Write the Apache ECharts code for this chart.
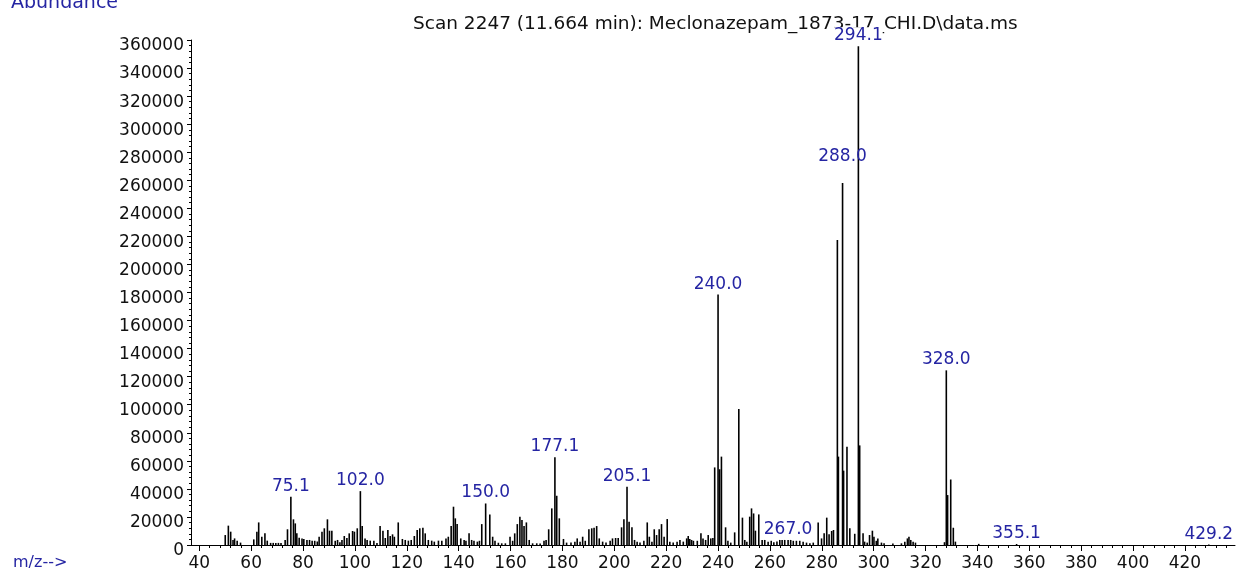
<!DOCTYPE html>
<html>
<head>
<meta charset="utf-8">
<script src="https://cdn.jsdelivr.net/npm/echarts@6.0.0/dist/echarts.min.js"></script>
<style>
  html, body { margin: 0; padding: 0; background: #fff; }
  #spectrum { width: 1238px; height: 575px; }
</style>
</head>
<body>
<div id="spectrum"></div>
<script>
  const titleText = 'Scan 2247 (11.664 min): Meclonazepam_1873-17_CHI.D\\data.ms'

  // m/z positions of every stick
  const mzList = [
    50.0, 51.2, 52.1, 53.0, 53.6, 54.6, 55.9, 61.0, 62.2, 62.9, 64.1, 65.3, 66.2, 67.5, 68.5, 69.5, 70.5, 71.5,
    73.1, 74.0, 75.3, 76.3, 77.0, 77.6, 78.5, 79.6, 80.3, 81.5, 82.5, 83.5, 84.5, 85.5, 86.2, 87.3, 88.2, 89.4,
    90.2, 91.1, 92.4, 93.3, 94.2, 95.0, 95.9, 96.9, 97.8, 99.1, 99.8, 100.9, 102.1, 102.8, 103.9, 104.7, 105.9,
    107.3, 108.5, 109.7, 110.8, 111.7, 112.7, 113.6, 114.5, 115.2, 116.7, 118.3, 119.4, 120.6, 121.7, 122.9,
    124.0, 125.0, 126.2, 127.1, 128.3, 129.6, 130.6, 132.2, 133.5, 135.1, 136.0, 137.1, 138.0, 138.7, 139.4,
    140.8, 142.1, 142.8, 144.0, 145.0, 145.9, 147.2, 148.0, 148.9, 150.4, 152.0, 153.1, 154.0, 155.3, 156.6,
    158.0, 159.8, 160.8, 161.6, 162.6, 163.6, 164.4, 165.2, 166.1, 167.2, 168.5, 170.1, 171.4, 172.9, 173.7,
    174.7, 175.9, 177.1, 177.8, 178.8, 180.4, 181.6, 183.3, 184.8, 185.7, 186.8, 187.8, 188.8, 190.2, 191.3,
    192.2, 193.2, 194.2, 195.5, 196.8, 198.4, 199.3, 200.5, 201.5, 202.8, 203.7, 204.9, 205.7, 206.8, 207.8,
    208.8, 209.9, 211.4, 212.7, 213.5, 214.5, 215.4, 216.3, 217.3, 218.2, 219.2, 220.4, 221.4, 222.7, 224.2,
    225.3, 226.6, 227.9, 228.5, 229.1, 229.8, 230.5, 232.0, 233.4, 234.2, 235.2, 236.2, 237.2, 238.0, 238.7,
    240.0, 240.6, 241.3, 242.9, 243.8, 244.9, 246.4, 248.0, 249.4, 250.3, 251.1, 252.2, 252.9, 253.7, 254.4,
    255.7, 257.0, 258.0, 259.3, 260.5, 261.5, 262.7, 263.8, 264.7, 265.7, 267.0, 268.0, 269.0, 270.2, 271.5,
    272.8, 274.1, 275.4, 276.7, 278.6, 279.9, 280.9, 281.9, 282.8, 283.8, 284.5, 286.0, 286.4, 288.0, 288.4,
    289.7, 290.8, 292.7, 294.1, 294.6, 295.9, 296.5, 297.5, 298.4, 299.5, 300.1, 301.0, 301.6, 303.0, 304.0,
    307.4, 310.7, 312.0, 313.0, 313.6, 314.3, 315.2, 316.1, 327.3, 328.0, 328.5, 329.7, 330.7, 331.5, 340.5,
    355.1, 429.2
  ]

  const abundanceList = [
    7100, 13800, 9500, 3600, 4700, 3100, 1700, 4000, 9500, 16100, 5900, 8300, 3100, 1500, 1500, 1500, 1500, 1500,
    3600, 11200, 34400, 18300, 15400, 8300, 5200, 4700, 4300, 3600, 3600, 3000, 3000, 2500, 5900, 9500, 11900, 18300,
    10200, 10200, 3000, 3600, 2000, 3600, 6400, 5000, 8300, 10000, 9500, 11900, 38400, 13500, 4700, 3600, 3100,
    3000, 1500, 13500, 10200, 5000, 10700, 6400, 7600, 5900, 16100, 4300, 3600, 3100, 3600, 6400,
    10700, 11900, 12300, 8300, 3600, 3100, 2400, 3100, 3100, 4700, 5900, 13500, 27300, 19000, 14900,
    4700, 3600, 3000, 8300, 3600, 3000, 2400, 3000, 14900, 29600, 21800, 5900, 3000, 1600, 1200,
    1200, 5900, 3000, 8300, 14900, 20200, 17800, 13500, 16100, 3600, 1200, 1200, 1000, 3000, 3600,
    11200, 26100, 62600, 35100, 19000, 4300, 1700, 1700, 2400, 4700, 2400, 5900, 3000, 11200, 11900,
    12300, 13500, 4700, 2400, 1700, 3000, 4700, 5000, 5000, 12600, 18300, 41500, 16600, 12600, 3600,
    2400, 1700, 3000, 16100, 5900, 2400, 11200, 7100, 11200, 14900, 5900, 18500, 2400, 1700, 2400,
    3600, 2400, 4700, 6400, 4300, 3600, 3000, 3000, 8300, 4700, 3600, 7100, 4700, 5000, 55300,
    178500, 54000, 63000, 12600, 3000, 1700, 9000, 97000, 19500, 3600, 2400, 20200, 26100, 22500, 10200,
    21800, 3600, 3600, 2400, 3000, 2000, 2500, 3600, 3600, 3600, 3600, 3600, 3000, 3000, 3000,
    2400, 1700, 1200, 1700, 16100, 4700, 8300, 19500, 7600, 10000, 10700, 217500, 63000, 258000, 53000,
    70000, 11900, 8000, 355500, 71000, 8300, 2400, 1700, 7100, 10200, 5900, 3000, 4700, 1700, 1200,
    1000, 1200, 2400, 4700, 5900, 3600, 2400, 1700, 2000, 124500, 35600, 46700, 12300, 2400, 800,
    700, 300
  ]

  // annotated peaks: which stick gets a label and the text shown
  const labelMz = [75.3, 102.1, 150.4, 177.1, 204.9, 240.0, 267.0, 288.0, 294.1, 328.0, 355.1, 429.2]
  const labelText = ['75.1', '102.0', '150.0', '177.1', '205.1', '240.0', '267.0', '288.0', '294.1', '328.0', '355.1', '429.2']

  const xMajorTicks = [40, 60, 80, 100, 120, 140, 160, 180, 200, 220, 240, 260, 280, 300, 320, 340, 360, 380, 400, 420]
  const yTickStep = 20000

  const xMinorTicks = []
  for (let v = 36; v <= 436; v += 4) {
    if (v % 20 !== 0) xMinorTicks.push(v)
  }

  const blue = '#2525a3'
  const font = 'DejaVu Sans'
  const grid = { left: 191, right: 3, top: 40, bottom: 30 }

  const seriesData = mzList.map((m, i) => {
    const k = labelMz.indexOf(m)
    if (k < 0) return [m, abundanceList[i]]
    const label = { show: true, formatter: labelText[k] }
    if (labelText[k] === '294.1') {
      label.backgroundColor = '#fff'
    }
    if (labelText[k] === '288.0') {
      label.offset = [0, -16]
    }
    return { value: [m, abundanceList[i]], label }
  })

  const myChart = echarts.init(document.getElementById('spectrum'))

  myChart.setOption({
    animation: false,
    backgroundColor: '#fff',
    title: {
      text: titleText,
      left: 408,
      top: 10,
      textStyle: { fontFamily: font, fontSize: 18.5, fontWeight: 'normal', color: '#111' }
    },
    graphic: [
      {
        type: 'text', left: 11, top: -6,
        style: { text: 'Abundance', fill: blue, font: '19px "DejaVu Sans"' }
      },
      {
        type: 'text', left: 13, top: 555,
        style: { text: 'm/z-->', fill: blue, font: '16px "DejaVu Sans"' }
      }
    ],
    grid: [
      { ...grid },
      { ...grid }
    ],
    xAxis: [
      {
        type: 'value',
        gridIndex: 0,
        min: 36.8,
        max: 439.3,
        axisLine: { lineStyle: { color: '#000', width: 1 } },
        axisTick: { customValues: xMajorTicks, length: 6, lineStyle: { color: '#000' } },
        axisLabel: {
          customValues: xMajorTicks,
          margin: 10,
          color: '#111',
          fontFamily: font,
          fontSize: 17
        },
        splitLine: { show: false }
      },
      {
        type: 'value',
        gridIndex: 1,
        min: 36.8,
        max: 439.3,
        axisLine: { show: false },
        axisTick: { customValues: xMinorTicks, length: 3, lineStyle: { color: '#000' } },
        axisLabel: { show: false },
        splitLine: { show: false }
      }
    ],
    yAxis: [
      {
        type: 'value',
        gridIndex: 0,
        min: 0,
        max: 360000,
        interval: yTickStep,
        axisLine: { show: true, lineStyle: { color: '#000', width: 1 } },
        axisTick: { show: true, length: 4, lineStyle: { color: '#000' } },
        minorTick: { show: true, splitNumber: 5, length: 2, lineStyle: { color: '#000' } },
        axisLabel: {
          margin: 7,
          color: '#111',
          fontFamily: font,
          fontSize: 17,
          verticalAlign: 'top',
          lineHeight: 12,
          formatter: v => String(v)
        },
        splitLine: { show: false }
      },
      {
        type: 'value',
        gridIndex: 1,
        min: 0,
        max: 360000,
        show: false
      }
    ],
    series: [
      {
        type: 'bar',
        xAxisIndex: 0,
        yAxisIndex: 0,
        z: 10,
        barWidth: 1.6,
        itemStyle: { color: '#000' },
        label: {
          show: false,
          position: 'top',
          distance: 2,
          color: blue,
          fontFamily: font,
          fontSize: 17
        },
        data: seriesData
      }
    ]
  })
</script>
</body>
</html>
